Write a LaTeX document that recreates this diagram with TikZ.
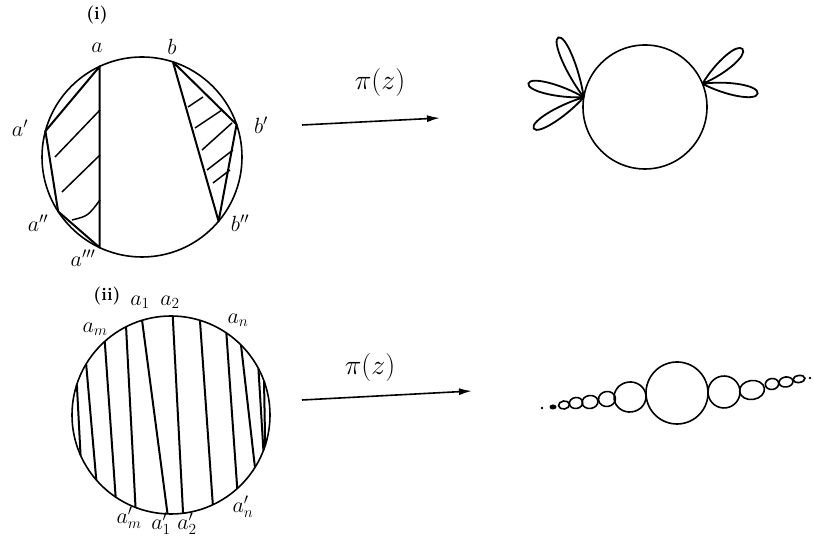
\RequirePackage{fix-cm}
\documentclass[tikz,border=0pt]{standalone}
\usepackage{tikz}
\usetikzlibrary{arrows.meta}
\tikzset{
  disk/.style={circle, draw, line width=1.6pt, inner sep=0pt, outer sep=0pt},
  chord/.style={line width=2pt, line join=round},
  hatch/.style={line width=1.5pt},
  petal/.style={line width=1.8pt},
  bead/.style={line width=1.6pt},
  lbl/.style={inner sep=0pt, font=\fontsize{22}{24}\selectfont},
  tag/.style={inner sep=0pt, font=\fontsize{18}{20}\selectfont\bfseries},
  maplbl/.style={inner sep=0pt, font=\fontsize{28}{32}\selectfont},
  maparrow/.style={line width=1.6pt, -{Latex[length=13pt,width=7pt]}},
}

\begin{document}
\begin{tikzpicture}[x=1pt,y=1pt]
    \useasboundingbox (0,0) rectangle (814,540);

    % (i) disk with two shaded regions
    \node[disk, minimum size=200pt] (disk1) at (142,383) {};
    \coordinate (a)  at (disk1.115);
    \coordinate (a1) at (disk1.165);
    \coordinate (a2) at (disk1.213);
    \coordinate (a3) at (disk1.245);
    \coordinate (b)  at (disk1.72);
    \coordinate (b1) at (disk1.19);
    \coordinate (b2) at (disk1.320);
    \draw[chord] (a) -- (a1) -- (a2) -- (a3) -- cycle;
    \draw[chord] (b) -- (b1) -- (b2) -- cycle;

    \foreach \x/\y/\u/\v in {55/383/100/430, 62/348/100/385} {
        \draw[hatch] (\x,\y) -- (\u,\v);
    }
    \draw[hatch] (72,320) .. controls (88,324) .. (100,340);
    \foreach \x/\y/\u/\v in {188/433/203/443, 195/412/222/430, 202/390/232/417, 207/370/233/390, 213/357/230/370} {
        \draw[hatch] (\x,\y) -- (\u,\v);
    }

    \node[tag] (li)  at (97,525) {(i)};
    \node[lbl] (la)  at (97,492) {$a$};
    \node[lbl] (lb)  at (172,493) {$b$};
    \node[lbl] (la1) at (20,412) {$a'$};
    \node[lbl] (lb1) at (261,415) {$b'$};
    \node[lbl] (la2) at (38,317) {$a''$};
    \node[lbl] (lb2) at (240,317) {$b''$};
    \node[lbl] (la3) at (83,282) {$a'''$};

    % map (i)
    \coordinate (m1s) at (302,415);
    \coordinate (m1e) at (440,422);
    \draw[maparrow] (m1s) -- (m1e);
    \node[maplbl] (pi1) at (380,457) {$\pi(z)$};

    % image (i): disk with petals
    \node[disk, minimum size=124pt] (img1) at (645,433) {};
    \foreach \ang/\len in {113/65, 166/57, 212/59} {
        \draw[petal, shift={(img1.171)}, rotate=\ang]
            (0,0) .. controls (0.45*\len,7.5) and (\len,7.5) .. (\len,0)
                  .. controls (\len,-7.5) and (0.45*\len,-7.5) .. (0,0);
    }
    \foreach \ang/\len in {41/53, -10/56} {
        \draw[petal, shift={(img1.22)}, rotate=\ang]
            (0,0) .. controls (0.45*\len,8) and (\len,8) .. (\len,0)
                  .. controls (\len,-8) and (0.45*\len,-8) .. (0,0);
    }

    % (ii) disk filled with chords
    \node[disk, minimum size=198pt] (disk2) at (171,125) {};
    \foreach \s/\e in {162/204, 149/221, 132/236, 117/249, 107/268, 89/277, 73/295, 56/312, 45/328, 28/339, 20/342} {
        \draw[chord] (disk2.\s) -- (disk2.\e);
    }

    \node[tag] (lii) at (107,244) {(ii)};
    \node[lbl] (l1)  at (140,238) {$a_1$};
    \node[lbl] (l2)  at (170,238) {$a_2$};
    \node[lbl] (lm)  at (95,211) {$a_m$};
    \node[lbl] (ln)  at (238,220) {$a_n$};
    \node[lbl] (ln1) at (243,33) {$a_n'$};
    \node[lbl] (lm1) at (129,22) {$a_m'$};
    \node[lbl] (l11) at (161,16) {$a_1'$};
    \node[lbl] (l21) at (187,16) {$a_2'$};

    % map (ii)
    \coordinate (m2s) at (302,140);
    \coordinate (m2e) at (472,149);
    \draw[maparrow] (m2s) -- (m2e);
    \node[maplbl] (pi2) at (370,172) {$\pi(z)$};

    % image (ii): chain of beads
    \foreach \x/\y/\rx/\ry in {677/147/31/31, 724/148/16/16, 630/143/16/15, 607/141/8.5/7.5, 590/138/8/6.5, 576/137/6.7/5.5, 564/135/5.5/4, 752/150/12.5/9.5, 772/156/6.7/5.5, 786/158/7/5, 799/161/6/3.5} {
        \draw[bead, rotate around={8:(\x,\y)}] (\x,\y) ellipse [x radius=\rx, y radius=\ry];
    }
    \fill (553,133) ellipse [x radius=3.5, y radius=2.5];
    \fill (542,132) circle (1.3);
    \fill (810,162) circle (1.4);
\end{tikzpicture}
\end{document}
